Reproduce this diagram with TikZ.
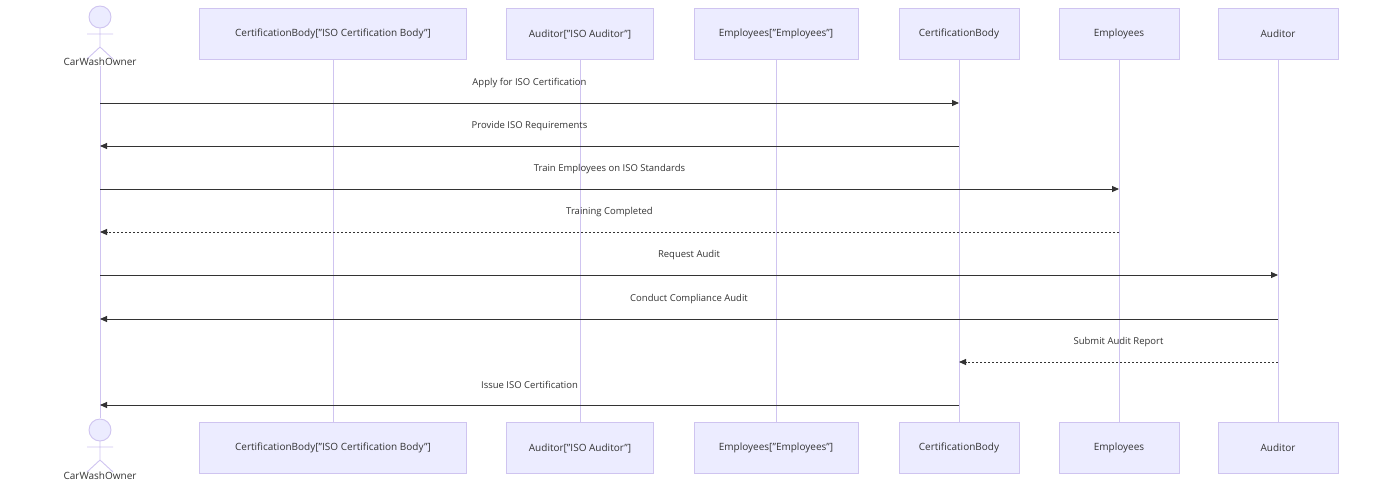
\documentclass[tikz,border=0pt]{standalone}
\usepackage{fontspec}
\setmainfont{Open Sans}
\usetikzlibrary{arrows.meta}
\definecolor{af}{HTML}{ECECFF}
\definecolor{ab}{HTML}{CFC4F0}
\definecolor{tx}{HTML}{333333}
\begin{document}
\begin{tikzpicture}[x=1pt,y=-1pt,
  abox/.style={draw=ab,fill=af,minimum height=51pt,inner sep=0pt,font=\fontsize{10}{12}\selectfont,text=tx},
  life/.style={draw=ab,line width=0.9pt},
  msg/.style={draw=tx,line width=0.9pt,-{Triangle[length=7pt,width=6pt]}},
  dmsg/.style={msg,dash pattern=on 2pt off 2pt},
  lab/.style={font=\fontsize{9.5}{11}\selectfont,text=tx}]
\useasboundingbox (0,0) rectangle (1384,485);
\foreach \n/\x/\w/\t in {a/333/267/{CertificationBody["ISO Certification Body"]},b/580/147/{Auditor["ISO Auditor"]},c/776/164/{Employees["Employees"]},d/959/120/{CertificationBody},e/1119/120/{Employees},f/1278/120/{Auditor}}{
  \draw[life] (\x,59) -- (\x,422);
  \node[abox,minimum width=\w pt] (\n top) at (\x,34) {\t};
  \node[abox,minimum width=\w pt] (\n bot) at (\x,448) {\t};
}
\draw[life] (100,66) -- (100,418);
\foreach \y/\ly/\n in {17/62/ot,430/476/ob}{
  \draw[ab,fill=af,line width=0.9pt] (100,\y) circle (11);
  \draw[ab,line width=0.9pt] (100,\y+11) -- (100,\y+30) (87,\y+17) -- (113,\y+17)
     (100,\y+30) -- (87,\y+42) (100,\y+30) -- (113,\y+42);
  \node[lab,font=\fontsize{10}{12}\selectfont] (\n) at (100,\ly) {CarWashOwner};
}
\foreach \y/\xa/\xb/\s/\t in {
 103/100/959/msg/{Apply for ISO Certification},
 146/959/100/msg/{Provide ISO Requirements},
 189/100/1119/msg/{Train Employees on ISO Standards},
 232/1119/100/dmsg/{Training Completed},
 275/100/1278/msg/{Request Audit},
 319/1278/100/msg/{Conduct Compliance Audit},
 362/1278/959/dmsg/{Submit Audit Report},
 405/959/100/msg/{Issue ISO Certification}}{
  \coordinate (s) at (\xa,\y); \coordinate (e) at (\xb,\y);
  \draw[\s] (s) -- (e);
  \node[lab] at ({(\xa+\xb)/2},\y-20) {\t};
}
\end{tikzpicture}
\end{document}
